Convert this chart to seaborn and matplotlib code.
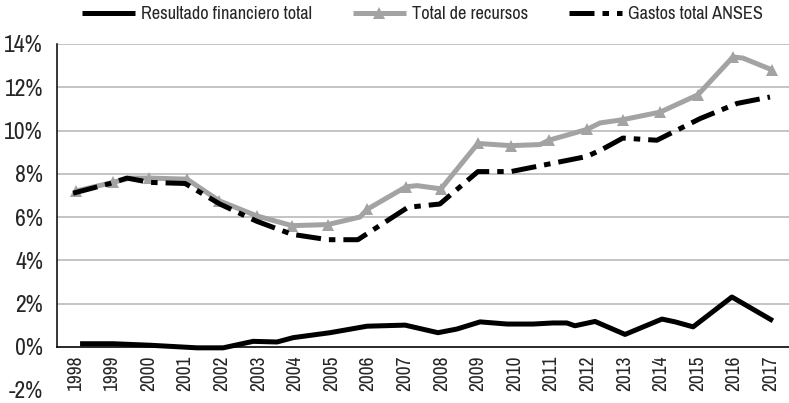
import numpy as np
import pandas as pd
import seaborn as sns
import matplotlib.pyplot as plt
from matplotlib import font_manager
from matplotlib.ticker import FixedLocator

sns.set_style("white")

# buscar una fuente angosta (tipo Arial Narrow)
nombres = {(f.name, f.stretch) for f in font_manager.fontManager.ttflist}
fuente_angosta = None
for f in font_manager.fontManager.ttflist:
    if 'Narrow' in f.name or 'Condensed' in f.name:
        fuente_angosta = f.name
        break
escala = 1.0
if fuente_angosta is not None:
    plt.rcParams['font.family'] = [fuente_angosta, 'DejaVu Sans']
elif any(s == 'condensed' or s == 'semi-condensed' or (isinstance(s, int) and s < 500)
         for n, s in nombres if n == 'DejaVu Sans'):
    plt.rcParams['font.family'] = ['DejaVu Sans']
    plt.rcParams['font.stretch'] = 'condensed'
else:
    plt.rcParams['font.family'] = ['Liberation Sans', 'DejaVu Sans']
    escala = 0.88

# datos (anio decimal, % del PIB)
recursos_x = [1998.52, 1999.53, 1999.99, 2000.51, 2001.55, 2002.43, 2003.46, 2004.42, 2005.40,
              2006.28, 2006.47, 2007.54, 2007.84, 2008.49, 2009.50, 2010.40, 2011.20, 2011.44,
              2012.48, 2012.84, 2013.46, 2014.48, 2015.51, 2016.47, 2016.74, 2017.54]
recursos_y = [7.2, 7.6, 7.8, 7.8, 7.75, 6.75, 6.05, 5.6, 5.65,
              6.0, 6.35, 7.4, 7.45, 7.3, 9.4, 9.3, 9.35, 9.55,
              10.05, 10.35, 10.5, 10.85, 11.65, 13.4, 13.35, 12.8]
recursos_marcas = [0, 1, 3, 4, 5, 6, 7, 8, 10, 11, 13, 14, 15, 17, 18, 20, 21, 22, 23, 25]

resultado_x = [1998.63, 1999.53, 2000.54, 2001.83, 2002.54, 2003.36, 2004.01, 2004.45, 2005.46,
               2006.47, 2007.51, 2008.41, 2008.93, 2009.56, 2010.30, 2011.01, 2011.55, 2011.93,
               2012.15, 2012.70, 2013.52, 2014.53, 2014.89, 2015.38, 2016.44, 2017.56]
resultado_y = [0.14, 0.14, 0.07, -0.05, -0.05, 0.25, 0.22, 0.42, 0.65,
               0.95, 1.0, 0.65, 0.82, 1.15, 1.05, 1.05, 1.1, 1.1,
               0.97, 1.17, 0.57, 1.28, 1.15, 0.92, 2.3, 1.2]

gastos_x = [1998.44, 1999.45, 1999.91, 2000.54, 2001.50, 2002.45, 2003.46, 2004.42, 2005.40,
            2006.22, 2007.59, 2008.46, 2009.50, 2010.40, 2011.44, 2012.48, 2012.92, 2013.46,
            2014.39, 2015.57, 2016.58, 2017.48]
gastos_y = [7.1, 7.55, 7.8, 7.6, 7.55, 6.6, 5.8, 5.2, 4.95,
            4.95, 6.45, 6.6, 8.1, 8.1, 8.45, 8.8, 9.15, 9.65,
            9.55, 10.55, 11.25, 11.55]

anios = list(range(1998, 2018))
y_ticks = [-2, 0, 2, 4, 6, 8, 10, 12, 14]

fig = plt.figure(figsize=(7.89, 4.03), dpi=100)
ax = fig.add_axes([57 / 789, 1 - 390 / 403, 1 - 57 / 789, (390 - 44) / 403])

sns.lineplot(x=resultado_x, y=resultado_y, ax=ax, color='black', linewidth=3.6,
             sort=False, estimator=None, label='Resultado financiero total')
sns.lineplot(x=recursos_x, y=recursos_y, ax=ax, color='#a3a3a3', linewidth=3.6,
             marker='^', markersize=9, markeredgewidth=0, markevery=recursos_marcas,
             sort=False, estimator=None, label='Total de recursos')
sns.lineplot(x=gastos_x, y=gastos_y, ax=ax, color='black', linewidth=3.6,
             dashes=(5, 1.6, 1.3, 1.6), sort=False, estimator=None,
             label='Gastos total ANSES')
for ln in ax.get_lines():
    ln.set_solid_capstyle('butt')
    ln.set_dash_capstyle('butt')

ax.set_xlim(1998, 2018)
ax.set_ylim(-2, 14)

# eje x en 0, categorias centradas entre marcas
ax.spines['bottom'].set_position(('data', 0))
ax.spines['top'].set_visible(False)
ax.spines['right'].set_visible(False)
ax.spines['left'].set_bounds(0, 14)
for s in ['bottom', 'left']:
    ax.spines[s].set_color('black')
    ax.spines[s].set_linewidth(1.1)

ax.xaxis.set_major_locator(FixedLocator([a + 0.5 for a in anios]))
ax.set_xticklabels([str(a) for a in anios], rotation=90, fontsize=14 * escala)
ax.xaxis.set_minor_locator(FixedLocator(list(range(1998, 2019))))
ax.tick_params(axis='x', which='major', length=0, pad=6)
ax.tick_params(axis='x', which='minor', length=6, width=1.1, direction='out', color='black')

ax.set_yticks(y_ticks)
ax.set_yticklabels([f'{v}%' for v in y_ticks], fontsize=17 * escala)
ax.tick_params(axis='y', length=0, pad=10)

ax.grid(axis='y', color='#b4b4b4', linewidth=1.1)
ax.get_ygridlines()[0].set_visible(False)
ax.set_axisbelow(True)

ax.get_legend().remove()
handles, labels = ax.get_legend_handles_labels()
fig.legend(handles, labels, loc='upper center', bbox_to_anchor=(0.5355, 1.025), ncol=3,
           frameon=False, fontsize=13.2 * escala, handlelength=2.9, columnspacing=2.2,
           handletextpad=0.35)

fig.savefig('out.png', dpi=100)
